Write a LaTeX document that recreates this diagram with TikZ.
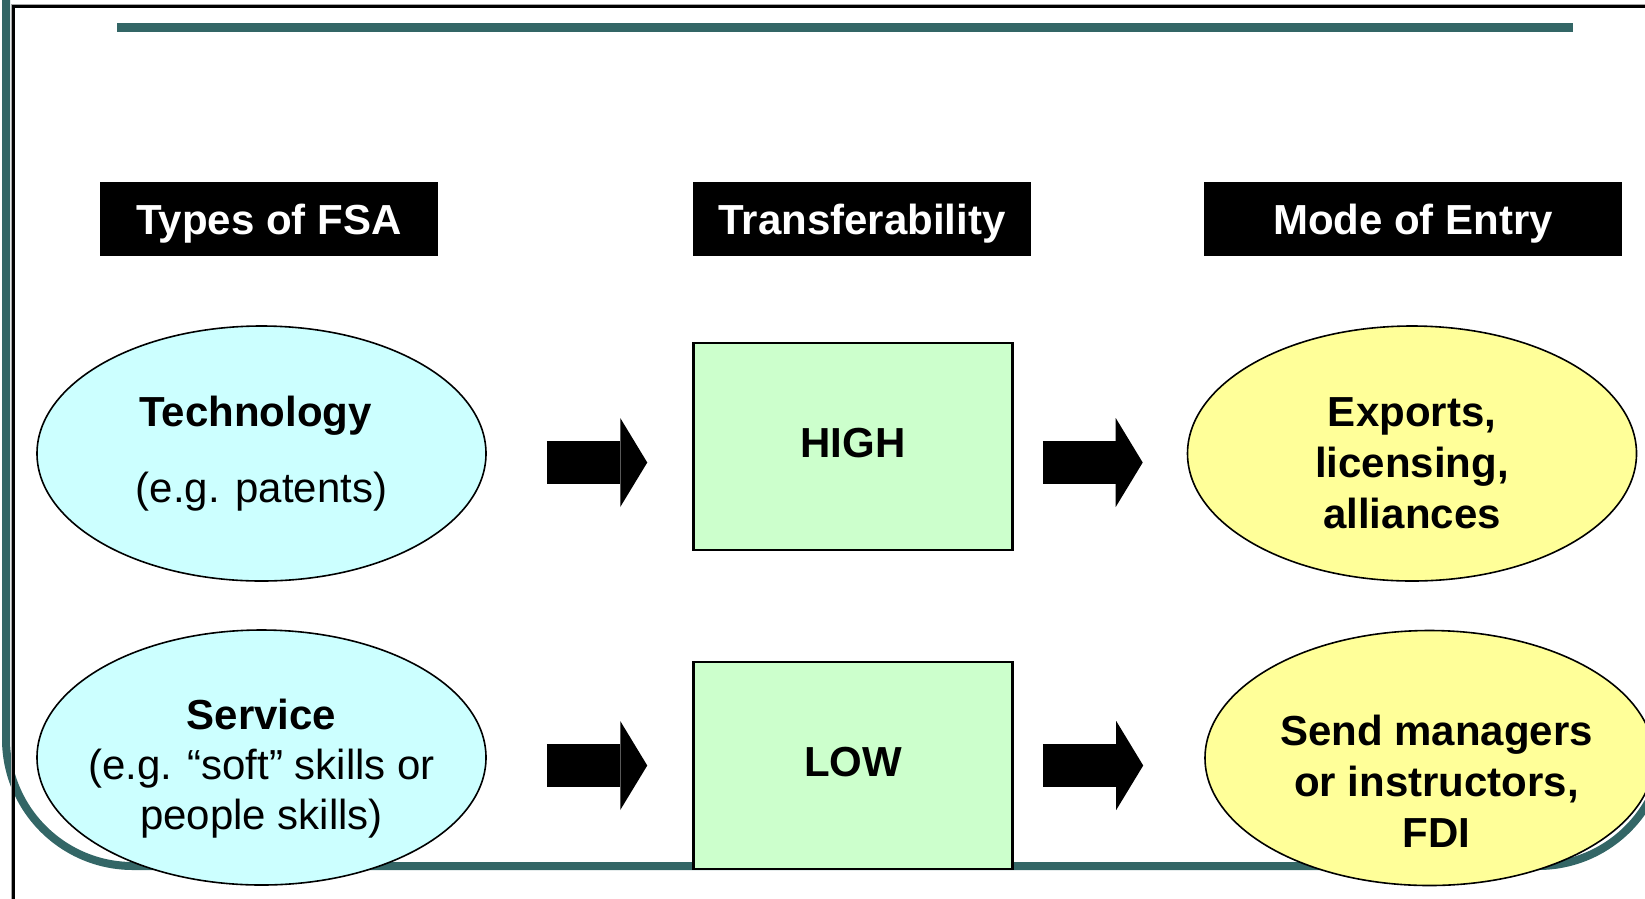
\documentclass[tikz,border=0pt]{standalone}
\usepackage{fontspec}
\setmainfont{Liberation Sans}
\definecolor{frameteal}{HTML}{336666}
\definecolor{fsacyan}{HTML}{CCFFFF}
\definecolor{entryyellow}{HTML}{FFFF99}
\definecolor{levelgreen}{HTML}{CCFFCC}
\usetikzlibrary{calc, positioning, shapes.geometric, arrows.meta}

\begin{document}
\begin{tikzpicture}[
  x=1pt, y=-1pt,
  font=\fontsize{42}{50}\selectfont,
  hdr/.style={fill=black, text=white, font=\fontsize{42}{50}\selectfont\bfseries,
              minimum height=74pt, inner sep=0pt, text height=30pt, text depth=0pt},
  fsa/.style={ellipse, draw=black, line width=1.6pt, fill=fsacyan, align=center,
              minimum width=449pt, minimum height=255pt, inner ysep=0pt, inner xsep=-30pt},
  entry/.style={fsa, fill=entryyellow, font=\fontsize{42}{51}\selectfont\bfseries},
  level/.style={draw=black, line width=2.5pt, fill=levelgreen,
                font=\fontsize{42}{50}\selectfont\bfseries,
                minimum width=319pt, minimum height=207pt, inner sep=0pt,
                text height=30pt, text depth=8pt},
  blk/.style={line width=43pt, -{Triangle[length=27pt, width=89pt, line width=0pt]}}
]
\useasboundingbox (0,0) rectangle (1645,898);
\clip (0,0) rectangle (1645,898);

% slide frame
\draw[frameteal, line width=8pt, rounded corners=127pt] (6,-40) -- (6,866) -- (1665,866) -- (1665,-40);
\draw[frameteal, line width=9pt] (117,27.5) -- (1573,27.5);
\draw[black!35, line width=1pt] (11.5,905) -- (11.5,4.5) -- (1650,4.5);
\draw[black, line width=2.5pt] (13.5,905) -- (13.5,6.5) -- (1650,6.5);

% column heads
\node[hdr, minimum width=338pt] (types) at (269,219) {Types of FSA};
\node[hdr, minimum width=338pt] (transf) at (862,219) {Transferability};
\node[hdr, minimum width=418pt] (mode) at (1413,219) {Mode of Entry};

% types of FSA
\node[fsa] (tech) at (261.5,453.5) {\textbf{Technology}\kern12pt\\[26pt](e.g. patents)};
\node[fsa, text height=152pt] (serv) at (261.5,757.5) {\textbf{Service}\\(e.g. “soft” skills or\\people skills)};

% transferability
\node[level] (high) at (853,446.5) {HIGH};
\node[level] (low) at (853,765.5) {LOW};

% modes of entry
\node[entry, text height=150pt] (expo) at (1412,453.5) {Exports,\\licensing,\\alliances};
\node[entry, text height=178pt] (send) at (1429.5,758)
  {\hspace*{14pt}Send managers\\\hspace*{14pt}or instructors,\\\hspace*{14pt}FDI};

% block arrows
\coordinate (row1) at (0,462.5);
\coordinate (row2) at (0,765.5);
\draw[blk, shorten <=60pt, shorten >=45pt] (tech.east |- row1) -- (high.west |- row1);
\draw[blk, shorten <=29pt, shorten >=44pt] (high.east |- row1) -- (expo.west |- row1);
\draw[blk, shorten <=60pt, shorten >=45pt] (serv.east |- row2) -- (low.west |- row2);
\draw[blk, shorten <=29pt, shorten >=61pt] (low.east |- row2) -- (send.west |- row2);
\end{tikzpicture}
\end{document}
